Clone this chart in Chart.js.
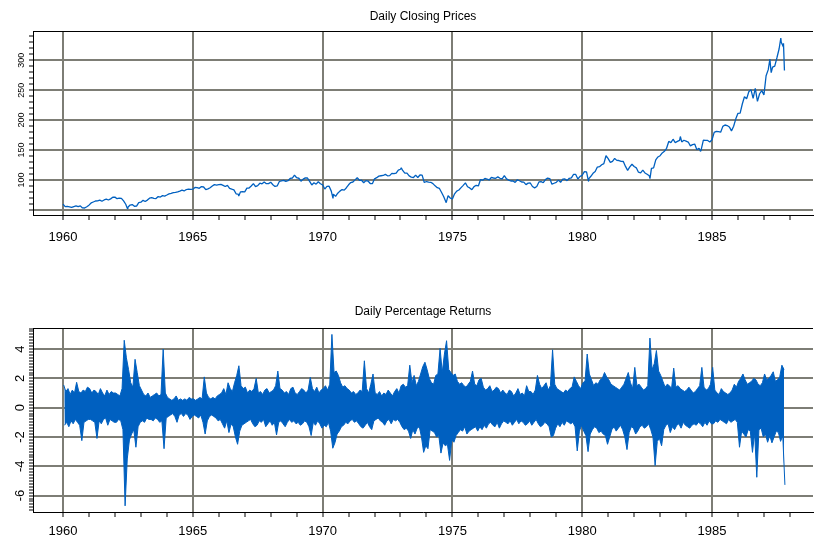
<!DOCTYPE html>
<html>
<head>
<meta charset="utf-8">
<script src="https://cdn.jsdelivr.net/npm/chart.js@4"></script>
<style>
  html, body { margin: 0; padding: 0; background: #fff; }
  .panel { position: absolute; left: 0; width: 814px; height: 272px; }
</style>
</head>
<body>
<div class="panel" style="top:0"><canvas id="priceChart"></canvas></div>
<div class="panel" style="top:272px"><canvas id="returnChart"></canvas></div>
<script>
const firstYear = 1960;

// month-end closes, Jan 1960 ..
const closes60s = [
  55.61, 56.12, 55.34, 54.37, 55.83, 56.92, 55.51, 56.96, 53.52, 53.39, 55.54, 58.11,
  61.78, 63.44, 65.06, 65.31, 66.56, 64.64, 66.76, 68.07, 66.73, 68.62, 71.32, 71.55,
  68.84, 69.96, 69.55, 65.24, 59.63, 54.75, 58.23, 59.12, 56.27, 56.52, 62.26, 63.10,
  66.20, 64.29, 66.57, 69.80, 70.80, 69.37, 69.13, 72.50, 71.70, 74.01, 73.23, 75.02,
  77.04, 77.80, 78.98, 79.46, 80.37, 81.69, 83.18, 81.83, 84.18, 84.86, 84.42, 84.75,
  87.56, 87.43, 86.16, 89.11, 88.42, 84.12, 85.25, 87.17, 89.96, 92.42, 91.61, 92.43,
  92.88, 91.22, 89.23, 91.06, 86.13, 84.74, 83.60, 77.10, 76.56, 80.20, 80.45, 80.33,
  86.61, 86.78, 90.20, 94.01, 89.08, 90.64, 94.75, 93.64, 96.71, 93.90, 94.00, 96.47,
  92.24, 89.36, 90.20, 97.59, 98.68, 99.58, 97.74, 98.86, 102.67, 103.41, 108.37, 103.86,
  103.01, 98.13, 101.51, 103.69, 103.46, 97.71, 91.83, 95.51, 93.12, 97.24, 93.81, 92.06
];
const closes70s = [
  85.02, 89.50, 89.63, 81.52, 76.55, 72.72, 78.05, 81.52, 84.21, 83.25, 87.20, 92.15,
  95.88, 96.75, 100.31, 103.95, 99.63, 99.70, 95.58, 99.03, 98.34, 94.23, 93.99, 102.09,
  103.94, 106.57, 107.20, 107.67, 109.53, 107.14, 107.39, 111.09, 110.55, 111.58, 116.67, 118.05,
  116.03, 111.68, 111.52, 106.97, 104.95, 104.26, 108.22, 104.25, 108.43, 108.29, 95.96, 97.55,
  96.57, 96.22, 93.98, 90.31, 87.28, 86.00, 79.31, 72.15, 63.54, 73.90, 69.97, 68.56,
  76.98, 81.59, 83.36, 87.30, 91.15, 95.19, 88.75, 86.88, 83.87, 89.04, 91.24, 90.19,
  100.86, 99.71, 102.77, 101.64, 100.18, 104.28, 103.44, 102.91, 105.24, 102.90, 102.10, 107.46,
  102.03, 99.82, 98.42, 98.44, 96.12, 100.48, 98.85, 96.77, 96.53, 92.34, 94.83, 95.10,
  89.25, 87.04, 89.21, 96.83, 97.24, 95.53, 100.68, 103.29, 102.54, 93.15, 94.70, 96.11,
  99.93, 96.28, 101.59, 101.76, 99.08, 102.91, 103.81, 109.32, 109.32, 101.82, 106.16, 107.94
];
const closes80s = [
  114.16, 113.66, 102.09, 106.29, 111.24, 114.24, 121.67, 122.38, 125.46, 127.47, 140.52, 135.76,
  129.55, 131.27, 136.00, 132.81, 132.59, 131.21, 130.92, 122.79, 116.18, 121.89, 126.35, 122.55,
  120.40, 113.11, 111.96, 116.44, 111.88, 109.61, 107.09, 119.51, 120.42, 133.71, 138.54, 140.64,
  145.30, 148.06, 152.96, 164.42, 162.39, 168.11, 162.56, 164.40, 166.07, 163.55, 166.40, 164.93,
  163.41, 157.06, 159.18, 160.05, 150.55, 153.18, 150.66, 166.68, 166.10, 166.09, 163.58, 167.24,
  179.63, 181.18, 180.66, 179.83, 189.55, 191.85, 190.92, 188.63, 182.08, 189.82, 202.17, 211.28,
  211.78, 226.92, 238.90, 235.52, 247.35, 250.84, 236.12, 252.93, 231.32, 243.98, 249.22, 242.17,
  274.08, 284.20, 291.70, 288.36, 290.10, 304.00, 318.66, 329.80, 321.83
];
// daily highs/lows that show in the picture: [date, close]
const priceExtras = [
  [1960.00, 59.91], [1962.48, 52.32], [1966.77, 73.20], [1970.40, 69.29],
  [1973.03, 120.24], [1974.76, 62.28], [1980.24, 98.22], [1982.61, 102.42],
  [1983.78, 172.65], [1984.56, 147.82], [1987.23, 301.95], [1987.28, 279.16],
  [1987.65, 336.77], [1987.753, 328.07], [1987.79, 282.70]
];

// biggest up and down daily % return in each month, Jan 1960 .. Oct 1987
const retHigh = [
  1.55, 1.1, 1.3, 0.9, 1.2, 1.0, 1.73, 1.1, 1.0, 1.2, 1.1, 1.4,
  1.3, 1.0, 1.2, 1.1, 0.9, 1.3, 1.0, 0.8, 1.2, 0.9, 1.1, 1.0,
  1.0, 0.9, 0.8, 1.3, 4.6, 3.4, 2.6, 1.7, 1.4, 3.3, 2.4, 1.5,
  1.2, 0.9, 0.8, 1.0, 0.7, 0.8, 0.9, 1.0, 0.8, 0.9, 4.0, 1.0,
  0.7, 0.6, 0.5, 0.6, 0.8, 0.5, 0.6, 0.5, 0.6, 0.5, 0.7, 0.6,
  0.6, 0.5, 0.6, 0.7, 0.6, 2.1, 1.0, 0.7, 0.6, 0.7, 0.6, 0.8,
  0.9, 1.0, 1.3, 0.9, 1.7, 1.3, 1.1, 1.7, 2.2, 2.86, 1.5, 1.3,
  1.4, 1.0, 1.2, 1.1, 1.3, 2.0, 1.0, 1.1, 0.9, 1.2, 1.3, 1.0,
  1.1, 1.2, 1.5, 2.5, 1.3, 1.2, 1.0, 1.1, 0.9, 1.3, 1.4, 1.0,
  0.9, 1.1, 1.3, 1.2, 1.0, 1.2, 2.07, 1.3, 1.1, 1.4, 1.0, 1.2,
  1.3, 1.5, 1.2, 1.6, 5.0, 2.4, 2.5, 2.2, 1.7, 1.4, 1.5, 1.3,
  1.2, 1.0, 1.1, 0.9, 1.0, 1.2, 1.1, 3.2, 1.3, 1.0, 1.6, 2.3,
  1.0, 0.9, 1.1, 0.8, 1.0, 0.9, 1.2, 1.0, 0.8, 1.1, 1.3, 1.0,
  1.5, 1.6, 1.4, 1.5, 2.9, 1.7, 2.2, 1.5, 1.8, 2.3, 2.8, 3.1,
  2.6, 2.0, 1.7, 1.6, 2.2, 2.3, 4.05, 2.4, 3.66, 4.57, 2.6, 2.4,
  2.2, 2.3, 1.8, 1.6, 1.7, 1.5, 1.4, 1.6, 1.8, 2.5, 1.6, 1.5,
  1.9, 2.0, 1.4, 1.2, 1.3, 1.5, 1.1, 1.2, 1.4, 1.3, 1.0, 1.2,
  1.0, 0.9, 1.2, 1.1, 0.8, 1.0, 1.3, 0.9, 1.0, 0.8, 1.5, 1.1,
  1.1, 0.9, 1.2, 2.2, 1.6, 1.3, 1.5, 1.7, 1.2, 1.5, 3.95, 1.6,
  1.3, 1.2, 1.1, 1.0, 1.2, 1.1, 1.3, 1.4, 2.1, 1.8, 1.5, 1.3,
  1.7, 1.8, 3.66, 2.3, 1.9, 1.5, 1.7, 1.6, 1.9, 2.0, 2.4, 2.1,
  1.9, 1.6, 1.5, 1.4, 1.3, 1.2, 1.4, 1.6, 2.0, 2.4, 1.7, 1.3,
  2.75, 1.5, 1.6, 1.4, 1.2, 1.3, 1.5, 4.75, 2.6, 3.0, 3.9, 2.5,
  2.2, 1.8, 1.4, 1.6, 1.5, 1.3, 2.7, 1.4, 1.5, 1.3, 1.2, 1.1,
  1.2, 1.4, 1.2, 1.0, 1.1, 1.3, 1.5, 2.75, 1.4, 1.2, 1.3, 1.6,
  2.75, 1.2, 1.0, 0.9, 1.3, 1.1, 1.0, 0.9, 1.0, 1.2, 1.6, 1.4,
  1.8, 2.0, 2.3, 1.9, 1.6, 1.7, 1.8, 2.0, 1.9, 1.6, 1.5, 1.7,
  2.3, 1.9, 2.0, 2.2, 2.45, 1.8, 1.9, 2.1, 2.9, 2.6
];
const retLow = [
  -1.2, -1.0, -1.3, -0.9, -1.1, -0.8, -1.0, -1.2, -2.25, -1.0, -0.9, -0.8,
  -0.8, -0.9, -1.0, -2.1, -0.9, -1.1, -0.8, -0.7, -1.2, -0.8, -0.9, -1.0,
  -1.0, -0.8, -0.9, -1.5, -6.7, -3.5, -2.2, -1.8, -1.5, -2.7, -1.3, -1.0,
  -0.9, -1.0, -0.7, -0.8, -0.8, -0.9, -0.7, -0.8, -1.0, -0.9, -2.8, -0.7,
  -0.6, -0.5, -0.4, -0.6, -1.0, -0.5, -0.4, -0.6, -0.4, -0.5, -0.8, -0.6,
  -0.5, -0.6, -0.7, -0.5, -1.0, -1.8, -0.9, -0.6, -0.5, -0.6, -0.7, -0.9,
  -0.8, -1.1, -1.4, -0.9, -1.7, -1.1, -1.3, -2.0, -2.5, -1.6, -1.2, -1.1,
  -1.0, -0.9, -0.8, -1.1, -1.3, -1.2, -0.9, -1.0, -0.8, -1.3, -1.1, -0.9,
  -1.2, -1.0, -1.86, -1.0, -0.9, -1.1, -1.3, -1.0, -0.8, -1.0, -0.9, -1.1,
  -1.0, -1.2, -1.1, -0.9, -1.0, -1.3, -1.9, -1.0, -1.2, -0.9, -1.1, -1.4,
  -1.2, -1.3, -1.0, -1.6, -2.77, -2.4, -1.8, -1.6, -1.3, -1.2, -1.0, -1.1,
  -0.9, -0.8, -1.0, -0.9, -1.1, -1.3, -1.4, -1.2, -1.0, -1.3, -1.5, -0.9,
  -0.8, -0.7, -0.9, -1.0, -1.2, -0.9, -0.8, -1.1, -0.8, -0.9, -0.8, -1.0,
  -1.3, -1.5, -1.4, -1.6, -2.1, -1.5, -1.8, -1.4, -1.3, -2.0, -3.05, -2.6,
  -2.8, -1.5, -1.6, -1.7, -2.0, -1.9, -3.1, -2.4, -2.6, -2.5, -3.6, -2.2,
  -2.36, -1.9, -1.7, -1.5, -1.6, -1.3, -1.8, -1.6, -1.5, -1.4, -1.3, -1.6,
  -1.3, -1.5, -1.2, -1.4, -1.1, -1.0, -1.2, -1.3, -1.0, -1.4, -1.1, -0.9,
  -1.0, -1.1, -0.9, -1.2, -1.0, -0.8, -1.1, -0.9, -1.0, -1.2, -1.1, -0.9,
  -1.2, -1.0, -0.8, -1.1, -1.3, -1.2, -1.0, -1.1, -1.3, -2.0, -1.9, -1.4,
  -1.1, -1.3, -1.0, -1.2, -0.9, -1.0, -1.1, -1.0, -1.3, -2.95, -1.6, -1.2,
  -1.6, -1.9, -3.0, -1.8, -1.5, -1.3, -1.4, -1.7, -1.6, -1.8, -1.9, -2.5,
  -2.0, -1.5, -1.3, -1.6, -1.4, -1.2, -1.5, -2.0, -2.86, -1.7, -1.3, -1.4,
  -1.8, -1.6, -1.3, -1.2, -1.4, -1.3, -1.1, -1.5, -2.0, -3.95, -2.3, -2.1,
  -2.6, -1.5, -1.2, -1.1, -1.7, -1.3, -1.5, -1.2, -1.1, -1.4, -1.0, -1.2,
  -1.3, -1.4, -1.2, -1.1, -1.2, -1.0, -1.1, -1.3, -1.0, -1.2, -0.9, -1.1,
  -1.1, -0.9, -1.0, -0.8, -0.9, -1.0, -1.1, -0.8, -1.0, -0.9, -0.8, -1.0,
  -2.7, -1.6, -1.8, -2.0, -1.5, -1.6, -3.05, -1.7, -4.75, -1.5, -1.4, -2.0,
  -1.8, -2.36, -1.9, -2.4, -2.0, -1.6, -1.7, -2.3, -1.9, -5.27
];

const blue = '#0060c0';
const gridGray = '#7d7d75';
const fontFamily = '"Liberation Sans", Arial, sans-serif';

// price points: month-end closes plus the extra days, sorted by date
const closes = closes60s.concat(closes70s, closes80s);
const pricePoints = closes.map((v, i) => ({ x: firstYear + (i + 1) / 12, y: v }))
  .concat(priceExtras.map(p => ({ x: p[0], y: p[1] })))
  .sort((a, b) => a.x - b.x);

// returns: the band between each month's high and low
const highPoints = retHigh.map((v, m) => ({ x: firstYear + (m + 0.3) / 12, y: v }));
const lowPoints = retLow.map((v, m) => ({ x: firstYear + (m + 0.7) / 12, y: v }));

function onStep(v, step) {
  return Math.abs(v / step - Math.round(v / step)) < 1e-6;
}

const topBorder = {
  id: 'topBorder',
  afterDraw(chart) {
    const a = chart.chartArea;
    const ctx = chart.ctx;
    ctx.save();
    ctx.strokeStyle = '#000';
    ctx.lineWidth = 1;
    ctx.beginPath();
    ctx.moveTo(a.left, Math.round(a.top) + 0.5);
    ctx.lineTo(a.right, Math.round(a.top) + 0.5);
    ctx.stroke();
    ctx.restore();
  }
};

function lineSet(points, width, fill) {
  return {
    data: points,
    borderColor: blue,
    backgroundColor: blue,
    borderWidth: width,
    borderJoinStyle: 'bevel',
    pointRadius: 0,
    tension: 0,
    fill: fill
  };
}

function makeChart(id, cfg) {
  const yMinor = [];
  for (let v = cfg.minorFrom; v <= cfg.minorTo + 1e-9; v += cfg.minorStep) {
    yMinor.push(Math.round(v * 100) / 100);
  }
  const xYears = [];
  for (let y = 1960; y <= 1988; y++) xYears.push(y);

  return new Chart(document.getElementById(id), {
    type: 'line',
    data: { datasets: cfg.datasets },
    options: {
      responsive: true,
      maintainAspectRatio: false,
      animation: false,
      events: [],
      layout: { padding: { left: 0, right: 1, top: 0, bottom: 0 } },
      plugins: {
        legend: { display: false },
        tooltip: { enabled: false },
        title: {
          display: true,
          text: cfg.title,
          color: '#000',
          fullSize: false,
          font: { family: fontFamily, size: 12, weight: 'normal' },
          padding: cfg.titlePadding
        }
      },
      scales: {
        x: {
          type: 'linear',
          min: 1958.844,
          max: 1988.89,
          afterBuildTicks: s => { s.ticks = xYears.map(v => ({ value: v })); },
          afterFit: s => { s.height = cfg.xHeight; },
          border: { color: '#000', width: 1 },
          grid: {
            color: c => (c.tick && c.tick.value % 5 === 0) ? gridGray : 'rgba(0,0,0,0)',
            lineWidth: 2,
            tickColor: '#000',
            tickWidth: 1,
            tickLength: 5
          },
          ticks: {
            autoSkip: false,
            maxRotation: 0,
            color: '#000',
            padding: cfg.xPad,
            font: { family: fontFamily, size: 13 },
            callback: v => (v % 5 === 0 ? String(v) : '')
          }
        },
        y: {
          type: 'linear',
          min: cfg.yMin,
          max: cfg.yMax,
          afterBuildTicks: s => { s.ticks = yMinor.map(v => ({ value: v })); },
          afterFit: s => { s.width = 33; },
          border: { color: '#000', width: 1 },
          grid: {
            color: c => (c.tick && onStep(c.tick.value, cfg.majorStep)) ? gridGray : 'rgba(0,0,0,0)',
            lineWidth: 2,
            tickColor: '#000',
            tickWidth: 1,
            tickLength: 4
          },
          ticks: {
            autoSkip: false,
            minRotation: 90,
            maxRotation: 90,
            crossAlign: 'center',
            color: '#000',
            padding: cfg.yPad,
            font: { family: fontFamily, size: cfg.yFont },
            callback: v => cfg.labels.includes(Math.round(v * 100) / 100) ? String(Math.round(v)) : ''
          }
        }
      }
    },
    plugins: [topBorder]
  });
}

makeChart('priceChart', {
  title: 'Daily Closing Prices',
  titlePadding: { top: 9, bottom: 8 },
  datasets: [lineSet(pricePoints, 1.3, false)],
  yMin: 41.7, yMax: 348,
  minorFrom: 50, minorTo: 340, minorStep: 10, majorStep: 50,
  labels: [100, 150, 200, 250, 300],
  yFont: 9, yPad: 0,
  xHeight: 57, xPad: 10
});

makeChart('returnChart', {
  title: 'Daily Percentage Returns',
  titlePadding: { top: 32, bottom: 10 },
  datasets: [lineSet(highPoints, 1, '+1'), lineSet(lowPoints, 1, false)],
  yMin: -7.12, yMax: 5.41,
  minorFrom: -7, minorTo: 5.4, minorStep: 0.2, majorStep: 2,
  labels: [-6, -4, -2, 0, 2, 4],
  yFont: 13, yPad: 3,
  xHeight: 32, xPad: 7
});
</script>
</body>
</html>
